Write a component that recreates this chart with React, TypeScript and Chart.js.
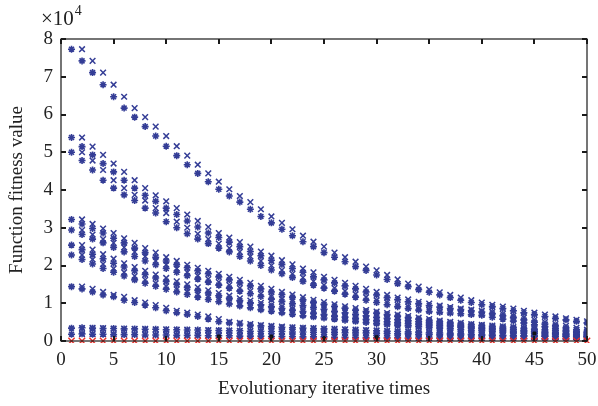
import React, { useEffect, useRef } from "react";
import { Chart, registerables } from "chart.js";

Chart.register(...registerables);

const iterations = Array.from({ length: 50 }, (_, i) => i + 1);
const xTicks = [0, 5, 10, 15, 20, 25, 30, 35, 40, 45, 50];
const yTicks = [0, 1, 2, 3, 4, 5, 6, 7, 8];

const bandA = [7.73,7.42,7.11,6.79,6.47,6.17,5.93,5.68,5.43,5.16,4.91,4.67,4.44,4.22,4.02,3.84,3.68,3.49,3.30,3.13,2.96,2.79,2.63,2.50,2.34,2.22,2.10,1.97,1.87,1.75,1.63,1.52,1.44,1.36,1.29,1.22,1.15,1.08,1.02,0.96,0.91,0.86,0.80,0.75,0.70,0.65,0.60,0.56,0.52,0.48];
const bandB1 = [5.39,5.15,4.93,4.70,4.48,4.26,4.05,3.86,3.70,3.52,3.35,3.18,3.02,2.86,2.74,2.62,2.50,2.37,2.26,2.14,2.03,1.92,1.82,1.70,1.62,1.54,1.46,1.38,1.30,1.22,1.15,1.10,1.04,0.99,0.94,0.90,0.86,0.83,0.80,0.77,0.72,0.67,0.62,0.56,0.50,0.45,0.40,0.35,0.30,0.26];
const bandB2 = [5.00,4.78,4.53,4.26,4.05,3.87,3.72,3.52,3.39,3.16,3.00,2.84,2.70,2.58,2.46,2.36,2.24,2.12,2.00,1.88,1.78,1.68,1.58,1.48,1.40,1.32,1.24,1.16,1.08,1.02,0.96,0.91,0.86,0.82,0.78,0.76,0.74,0.72,0.70,0.68,0.63,0.58,0.53,0.48,0.43,0.38,0.33,0.29,0.25,0.22];
const bandC1 = [3.22,3.10,2.98,2.86,2.72,2.60,2.46,2.34,2.22,2.12,2.02,1.94,1.86,1.78,1.70,1.62,1.54,1.46,1.38,1.30,1.23,1.16,1.09,1.03,0.97,0.92,0.87,0.82,0.78,0.74,0.70,0.66,0.62,0.58,0.54,0.51,0.48,0.45,0.43,0.41,0.39,0.37,0.35,0.33,0.31,0.29,0.27,0.25,0.23,0.21];
const bandC2 = [2.94,2.82,2.70,2.60,2.48,2.36,2.24,2.12,2.02,1.92,1.82,1.73,1.64,1.56,1.48,1.40,1.32,1.25,1.18,1.11,1.05,0.99,0.94,0.89,0.84,0.79,0.75,0.71,0.67,0.63,0.60,0.57,0.54,0.51,0.48,0.45,0.42,0.40,0.38,0.36,0.34,0.32,0.30,0.28,0.26,0.24,0.22,0.20,0.18,0.17];
const bandD1 = [2.54,2.42,2.30,2.18,2.06,1.96,1.86,1.76,1.67,1.58,1.50,1.42,1.34,1.27,1.20,1.13,1.07,1.01,0.96,0.91,0.86,0.82,0.78,0.74,0.70,0.66,0.63,0.60,0.57,0.54,0.51,0.48,0.46,0.44,0.42,0.40,0.38,0.36,0.34,0.32,0.30,0.28,0.26,0.25,0.24,0.22,0.20,0.18,0.16,0.15];
const bandD2 = [2.28,2.16,2.04,1.92,1.82,1.72,1.62,1.53,1.45,1.37,1.30,1.23,1.16,1.10,1.04,0.98,0.93,0.88,0.83,0.79,0.75,0.71,0.67,0.64,0.61,0.58,0.55,0.52,0.49,0.46,0.44,0.42,0.40,0.38,0.36,0.34,0.32,0.30,0.28,0.27,0.26,0.24,0.22,0.21,0.20,0.18,0.17,0.15,0.14,0.13];
const bandE = [1.44,1.38,1.30,1.22,1.17,1.08,1.02,0.95,0.88,0.80,0.75,0.70,0.65,0.58,0.51,0.48,0.45,0.42,0.40,0.38,0.36,0.35,0.34,0.33,0.32,0.31,0.30,0.29,0.28,0.27,0.26,0.25,0.24,0.23,0.22,0.21,0.20,0.19,0.18,0.17,0.16,0.15,0.14,0.14,0.13,0.13,0.12,0.12,0.11,0.11];
const bandF1 = [0.34,0.35,0.34,0.33,0.33,0.32,0.32,0.31,0.31,0.30,0.30,0.29,0.29,0.28,0.28,0.27,0.27,0.26,0.26,0.25,0.25,0.24,0.24,0.23,0.23,0.22,0.22,0.21,0.21,0.20,0.20,0.19,0.19,0.18,0.18,0.17,0.17,0.16,0.16,0.15,0.15,0.14,0.14,0.13,0.13,0.13,0.12,0.12,0.11,0.11];
const bandF2 = [0.18,0.19,0.18,0.18,0.17,0.17,0.17,0.16,0.16,0.16,0.15,0.15,0.15,0.14,0.14,0.14,0.13,0.13,0.13,0.12,0.12,0.12,0.11,0.11,0.11,0.10,0.10,0.10,0.09,0.09,0.09,0.09,0.08,0.08,0.08,0.08,0.07,0.07,0.07,0.07,0.06,0.06,0.06,0.06,0.05,0.05,0.05,0.05,0.05,0.04];
const bestValues = [0,0,0,0,0,0,0,0,0,0,0,0,0,0,0,0,0,0,0,0,0,0,0,0,0,0,0,0,0,0,0,0,0,0,0,0,0,0,0,0,0,0,0,0,0,0,0,0,0,0];
const blackX = [15, 20, 25, 30, 45];
const blackY = [0.12, 0.12, 0.06, 0.1, 0.2];

const bands = [bandA, bandB1, bandB2, bandC1, bandC2, bandD1, bandD2, bandE, bandF1, bandF2];

const BLUE = "#343d96";
const RED = "#e8302a";
const FONT = "'Liberation Serif', 'Times New Roman', serif";

const frame = {
  id: "frame",
  afterDraw(chart: any) {
    const { ctx, chartArea: a, scales } = chart;
    const xs = scales.x;
    const ys = scales.y;
    ctx.save();
    ctx.strokeStyle = "#1a1a1a";
    ctx.lineWidth = 1.2;
    ctx.strokeRect(a.left, a.top, a.right - a.left, a.bottom - a.top);
    ctx.lineWidth = 2;
    const L = 5;
    xTicks.forEach((t) => {
      const px = Math.round(xs.getPixelForValue(t));
      ctx.beginPath();
      ctx.moveTo(px, a.bottom);
      ctx.lineTo(px, a.bottom - L);
      ctx.moveTo(px, a.top);
      ctx.lineTo(px, a.top + L);
      ctx.stroke();
    });
    yTicks.forEach((t) => {
      const py = Math.round(ys.getPixelForValue(t));
      ctx.beginPath();
      ctx.moveTo(a.left, py);
      ctx.lineTo(a.left + L, py);
      ctx.moveTo(a.right, py);
      ctx.lineTo(a.right - L, py);
      ctx.stroke();
    });
    ctx.fillStyle = "#222";
    ctx.textBaseline = "alphabetic";
    ctx.textAlign = "left";
    ctx.font = `21px ${FONT}`;
    ctx.fillText("×10", 41, 25);
    const w = ctx.measureText("×10").width;
    ctx.font = `14px ${FONT}`;
    ctx.fillText("4", 41 + w + 1, 15);
    ctx.restore();
  },
};

export default function App() {
  const ref = useRef<HTMLCanvasElement>(null);
  useEffect(() => {
    if (!ref.current) return;
    const datasets: any[] = [];
    datasets.push({
      label: "best",
      data: iterations.map((x, i) => ({ x, y: bestValues[i] })),
      pointStyle: "crossRot",
      pointRadius: 4.5,
      borderColor: RED,
      backgroundColor: RED,
      pointBorderWidth: 1.4,
      showLine: false,
      clip: { left: 6, right: 6, top: 6, bottom: 2 },
    });
    datasets.push({
      label: "marks",
      data: blackX.map((x, i) => ({ x, y: blackY[i] })),
      pointStyle: "rect",
      pointRadius: 2,
      borderColor: "#111",
      backgroundColor: "#111",
      pointBorderWidth: 1,
      showLine: false,
    });
    bands.forEach((band, k) => {
      datasets.push({
        label: "s" + k,
        data: iterations.map((x, i) => ({ x, y: band[i] })),
        pointStyle: "star",
        pointRadius: 3.5,
        borderColor: BLUE,
        backgroundColor: BLUE,
        pointBorderWidth: 1.6,
        showLine: false,
      });
      datasets.push({
        label: "p" + k,
        data: iterations.slice(1).map((x, i) => ({ x, y: band[i] })),
        pointStyle: "crossRot",
        pointRadius: 4,
        borderColor: BLUE,
        backgroundColor: BLUE,
        pointBorderWidth: 1.5,
        showLine: false,
      });
    });
    const chart = new Chart(ref.current, {
      type: "scatter",
      data: { datasets },
      options: {
        animation: false,
        responsive: false,
        maintainAspectRatio: false,
        events: [],
        layout: { padding: { top: 39, right: 11, left: 6, bottom: 6 } },
        plugins: { legend: { display: false }, tooltip: { enabled: false } },
        scales: {
          x: {
            type: "linear",
            min: 0,
            max: 50,
            afterBuildTicks: (s: any) => {
              s.ticks = xTicks.map((v) => ({ value: v }));
            },
            afterFit: (s: any) => {
              s.height = 59;
              s.paddingLeft = 0;
              s.paddingRight = 0;
            },
            grid: { display: false, drawTicks: false },
            border: { display: false },
            ticks: { color: "#222", font: { family: FONT, size: 19 }, padding: 8, maxRotation: 0 },
            title: {
              display: true,
              text: "Evolutionary iterative times",
              color: "#222",
              font: { family: FONT, size: 19 },
              padding: { top: 8, bottom: 0 },
            },
          },
          y: {
            type: "linear",
            min: 0,
            max: 8,
            afterBuildTicks: (s: any) => {
              s.ticks = yTicks.map((v) => ({ value: v }));
            },
            afterFit: (s: any) => {
              s.width = 55;
              s.paddingTop = 0;
              s.paddingBottom = 0;
            },
            grid: { display: false, drawTicks: false },
            border: { display: false },
            ticks: { color: "#222", font: { family: FONT, size: 19 }, padding: 8 },
            title: {
              display: true,
              text: "Function fitness value",
              color: "#222",
              font: { family: FONT, size: 19 },
              padding: { top: 0, bottom: 6 },
            },
          },
        },
      },
      plugins: [frame],
    });
    return () => chart.destroy();
  }, []);
  return (
    <div style={{ position: "fixed", left: 0, top: 0, width: 598, height: 406, background: "#fff" }}>
      <canvas ref={ref} width={598} height={406} style={{ display: "block", width: 598, height: 406 }} />
    </div>
  );
}
